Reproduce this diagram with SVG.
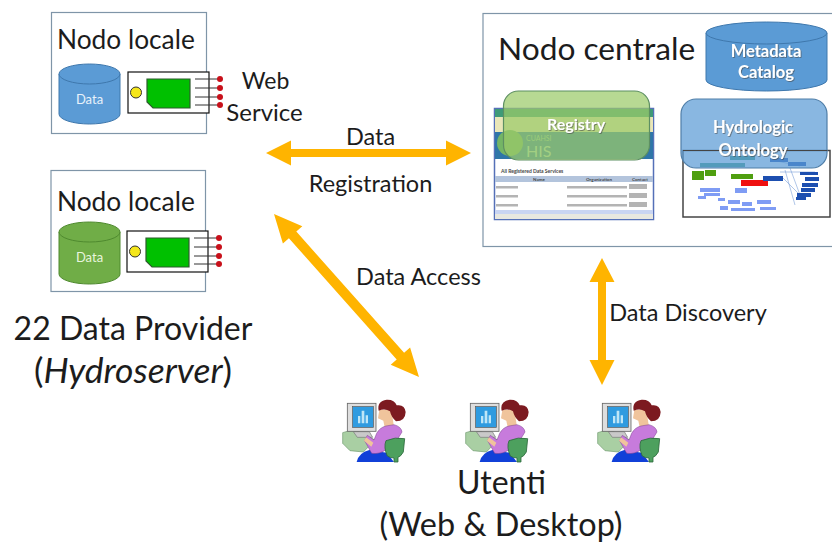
<svg xmlns="http://www.w3.org/2000/svg" xmlns:xlink="http://www.w3.org/1999/xlink" width="832" height="542" viewBox="0 0 832 542">
<style>
text{font-family:Lato,"Open Sans","Liberation Sans",sans-serif;fill:#1c1c1c}
.box{fill:#fff;stroke:#7f95a8;stroke-width:1.2}
.cylb{stroke:#3f78ad;stroke-width:1}
.blue{fill:#5b9bd5}.green{fill:#70ad47}
.lab{fill:#fff;text-anchor:middle;font-weight:700;filter:url(#sh)}
.pin{stroke:#333;stroke-width:1}
.dot{fill:#c8101a}
.arrow{fill:#ffb400}
.row{fill:#b4b4b4}
.o1{fill:#7f9cf4}.o2{fill:#1d4fb0}.o3{fill:#4f9f10}
.sm{font-size:5px;font-weight:700;fill:#444}
.tl{font-size:23.500px;text-anchor:middle}
.big{font-size:32px;text-anchor:middle}
</style>
<defs>
<filter id="sh" x="-10%" y="-20%" width="125%" height="150%"><feDropShadow dx="0.8" dy="0.8" stdDeviation="0.6" flood-color="#444" flood-opacity=".7"/></filter>
<g id="chip">
<rect x="0" y="0" width="81" height="41" fill="#fff" stroke="#111" stroke-width="1.2"/>
<circle cx="8" cy="20.500" r="5.500" fill="#f5e61a" stroke="#333"/>
<path d="M19 7H62V36H25L19 30Z" fill="#00c000" stroke="#2d5a2d" stroke-width="1.2"/>
<path class="pin" d="M67 7H92M67 16H92M67 25H92M67 33H92"/>
<circle class="dot" cx="92" cy="7" r="3"/><circle class="dot" cx="92" cy="16" r="3"/><circle class="dot" cx="92" cy="25" r="3"/><circle class="dot" cx="92" cy="33" r="3"/>
</g>
<g id="user">
<path d="M38 128L72 118L135 150L100 186L60 182L38 160Z" fill="#a9cfa3" stroke="#6f9a70" stroke-width="2"/>
<path d="M70 125H118L128 142H82Z" fill="#c9c9c9" stroke="#777" stroke-width="2"/>
<rect x="52" y="40" width="86" height="84" fill="#dedede" stroke="#666" stroke-width="2.500"/>
<rect x="68" y="50" width="62" height="62" fill="#2f9be0" stroke="#555" stroke-width="2"/>
<path d="M84 100V78h7v22zM95 100V62h8v38zM107 100V76h7v24z" fill="#bfe6f7"/>
<path d="M80 216Q86 188 118 180L170 188L192 216Z" fill="#1140d8"/>
<path d="M148 60L144 85L160 92L164 112L192 110L184 60Z" fill="#f0c49c"/>
<path d="M168 108Q150 112 140 130L132 150L112 136L104 152L125 190Q150 194 172 176L200 152L216 126Q214 110 192 104Z" fill="#c77bdc" stroke="#7a3f8c" stroke-width="1.500"/>
<path d="M108 142L130 158L124 170L102 152Z" fill="#f0c49c"/>
<path d="M168 152Q195 140 224 146L220 186Q212 200 204 202V216H192V204Q180 204 172 198Q160 172 168 152Z" fill="#4da05e" stroke="#2c6a3c" stroke-width="2.500"/>
<path d="M146 62Q140 34 170 29Q194 28 200 46Q224 42 227 66Q226 94 198 94Q184 82 180 64Q165 54 146 62Z" fill="#7c1a20"/>
</g>
</defs>

<g id="nodo-locale-1">
<rect class="box" x="51.500" y="12.500" width="155" height="121"/>
<text x="57" y="49" font-size="26.300">Nodo locale</text>
<path class="blue cylb" d="M59 74V114A30.500 10 0 0 0 120 114V74Z"/>
<ellipse class="blue cylb" cx="89.500" cy="74" rx="30.500" ry="10"/>
<text x="89.500" y="104" font-size="13" text-anchor="middle" style="fill:#e8f2fb">Data</text>
<use xlink:href="#chip" href="#chip" x="128" y="72"/>
</g>

<g id="web-service">
<text class="tl" x="265.500" y="89" style="font-size:23px">Web</text>
<text class="tl" x="264.500" y="121" style="font-size:24px">Service</text>
</g>

<g id="nodo-locale-2">
<rect class="box" x="51" y="170.500" width="154.500" height="121"/>
<text x="57" y="211" font-size="26.300">Nodo locale</text>
<path class="green cylb" style="stroke:#4f8a2f" d="M59 232V274A30.500 10 0 0 0 120 274V232Z"/>
<ellipse class="green cylb" style="stroke:#4f8a2f" cx="89.500" cy="232" rx="30.500" ry="10"/>
<text x="89.500" y="262" font-size="13" text-anchor="middle" style="fill:#e8f5de">Data</text>
<use xlink:href="#chip" href="#chip" x="127" y="231"/>
</g>

<g id="nodo-centrale">
<rect class="box" x="483" y="13.500" width="360" height="233"/>
<text x="498" y="60" font-size="31.700">Nodo centrale</text>
</g>

<g id="metadata-catalog">
<path class="blue cylb" d="M706 33V80A60.500 11 0 0 0 827 80V33Z"/>
<ellipse class="blue cylb" cx="766.500" cy="33" rx="60.500" ry="11"/>
<text class="lab" x="766" y="57" font-size="16.500">Metadata</text>
<text class="lab" x="766" y="78" font-size="16.500">Catalog</text>
</g>

<g id="registry">
<rect x="494.500" y="108.500" width="159" height="111" fill="#fff" stroke="#5570b8" stroke-width="1.500"/>
<rect x="495" y="109" width="158" height="8" fill="#3f9a78"/>
<rect x="495" y="117" width="158" height="15" fill="#e9e6b8"/>
<rect x="495" y="132" width="158" height="27" fill="#2f76a8"/>
<circle cx="510" cy="143" r="13" fill="#74b565"/>
<text x="526" y="141" font-size="7" style="fill:#9fd0a0">CUAHSI</text>
<text x="526" y="157" font-size="16" style="fill:#b5dcc0">HIS</text>
<text class="sm" x="501" y="173">All Registered Data Services</text>
<rect x="495" y="176" width="158" height="6" fill="#b3c4dc"/>
<text class="sm" x="533" y="181" style="font-size:4.500px">Name</text>
<text class="sm" x="586" y="181" style="font-size:4.500px">Organization</text>
<text class="sm" x="632" y="181" style="font-size:4.500px">Contact</text>
<g class="row"><rect x="496" y="186" width="22" height="2.500"/><rect x="567" y="186" width="60" height="2.500"/><rect x="629" y="184" width="18" height="5"/>
<rect x="496" y="195" width="22" height="2.500"/><rect x="567" y="195" width="60" height="2.500"/><rect x="629" y="193" width="18" height="5"/>
<rect x="496" y="204" width="22" height="2.500"/><rect x="567" y="204" width="60" height="2.500"/><rect x="629" y="202" width="18" height="5"/></g>
<rect x="495" y="210" width="158" height="4" fill="#c9d5f2"/>
<rect x="495" y="214" width="158" height="5" fill="#e8e8e0"/>
<rect x="503.500" y="91" width="146" height="69" rx="15" fill="#9bcb6a" fill-opacity=".72" stroke="#5d8f62" stroke-width="1.200"/>
<text class="lab" x="576" y="130" font-size="16">Registry</text>
</g>

<g id="hydrologic-ontology">
<rect x="683" y="150.500" width="147" height="66.500" fill="#fff" stroke="#444" stroke-width="1.500"/>
<path d="M730 158H755M700 165H745" stroke="#3f9a78" stroke-width="4"/>
<path d="M772 160L800 166M780 172L815 172M783 178L800 195M785 170L795 205M790 168L800 195" stroke="#7ba0d8" stroke-width=".6" fill="none"/>
<g class="o3"><rect x="692" y="171" width="12" height="9"/><rect x="705" y="170" width="11" height="6"/><rect x="731" y="174" width="22" height="5"/></g>
<rect x="741" y="180" width="27" height="6" fill="#ef1010"/>
<rect x="763" y="176" width="20" height="5" class="o2"/>
<g class="o2"><rect x="770" y="158" width="18" height="4"/><rect x="788" y="162" width="18" height="4"/><rect x="800" y="172" width="18" height="3"/><rect x="805" y="177" width="14" height="4"/><rect x="802" y="183" width="16" height="4"/><rect x="801" y="188" width="14" height="4"/><rect x="797" y="193" width="14" height="4"/><rect x="796" y="197" width="10" height="3"/></g>
<g class="o1"><rect x="700" y="188" width="20" height="4"/><rect x="704" y="193" width="16" height="3"/><rect x="698" y="196" width="8" height="3"/><rect x="718" y="198" width="7" height="3"/><rect x="735" y="188" width="12" height="5"/><rect x="728" y="200" width="12" height="4"/><rect x="742" y="202" width="10" height="4"/><rect x="757" y="200" width="14" height="4"/><rect x="720" y="206" width="8" height="4"/><rect x="731" y="208" width="24" height="3"/><rect x="760" y="207" width="16" height="3"/></g>
<rect x="681" y="99" width="146" height="69" rx="15" fill="#5b9bd5" fill-opacity=".72" stroke="#4f7ea8" stroke-width="1.200"/>
<path d="M683 150.500H827" stroke="#444" stroke-width="1.200"/>
<text class="lab" x="753" y="133" font-size="16.500">Hydrologic</text>
<text class="lab" x="753" y="156" font-size="16.500">Ontology</text>
</g>

<g id="connectors">
<path class="arrow" d="M266 153L291 140.500V149H446V140.500L471 153L446 165.500V157H291V165.500Z"/>
<path class="arrow" d="M274 214L302.300 226.300L296.300 231.600L404.100 352.800L410.100 347.500L419 377L390.700 364.700L396.700 359.400L288.900 238.200L282.900 243.500Z"/>
<path class="arrow" d="M602 258L614.500 282H606V360H614.500L602 385L589.500 360H598V282H589.500Z"/>
</g>

<g id="labels">
<text class="tl" x="370.500" y="145">Data</text>
<text class="tl" x="370.500" y="192">Registration</text>
<text class="tl" x="418.500" y="285">Data Access</text>
<text class="tl" x="688" y="321">Data Discovery</text>
</g>

<g id="data-provider">
<text class="big" x="133" y="340">22 Data Provider</text>
<text class="big" x="133" y="383" style="font-size:35.500px">(<tspan font-style="italic">Hydroserver</tspan>)</text>
</g>

<g id="utente-1"><use xlink:href="#user" href="#user" transform="translate(330 390) scale(.3333)"/></g>
<g id="utente-2"><use xlink:href="#user" href="#user" transform="translate(453 390) scale(.3333)"/></g>
<g id="utente-3"><use xlink:href="#user" href="#user" transform="translate(585 390) scale(.3333)"/></g>

<g id="utenti">
<text class="big" x="501.500" y="494">Utenti</text>
<text class="big" x="501" y="536" style="font-size:32.400px">(Web &amp; Desktop)</text>
</g>
</svg>
